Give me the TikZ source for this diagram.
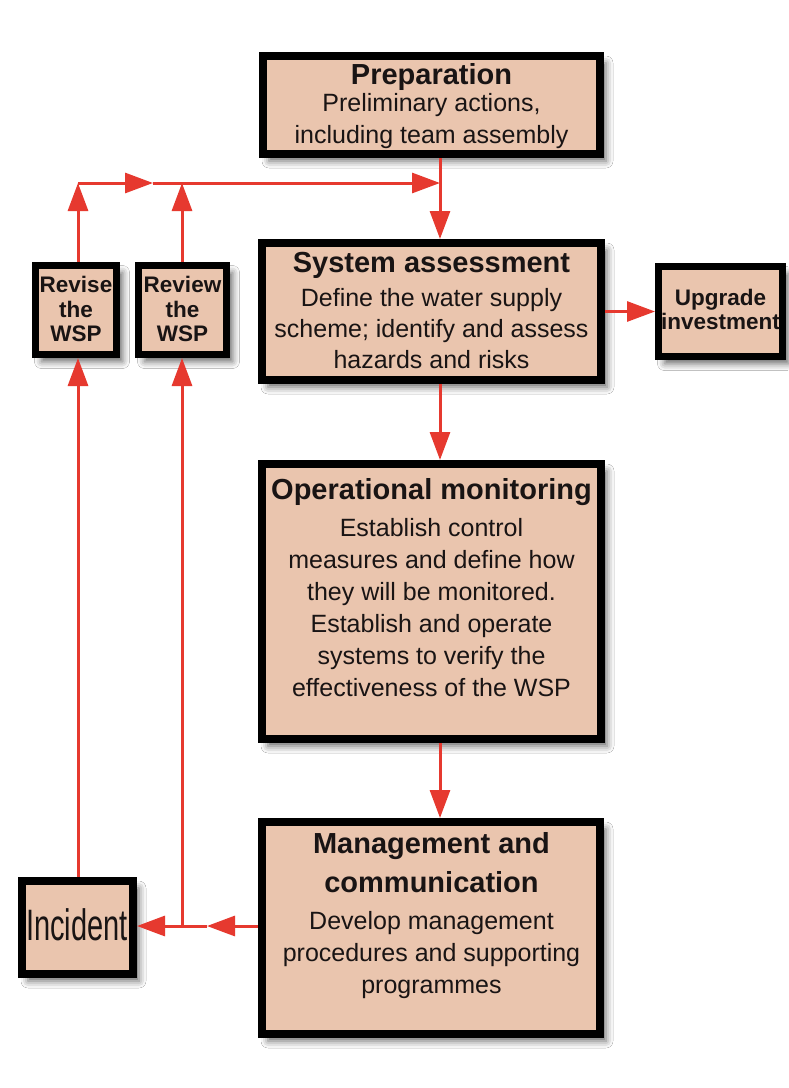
\documentclass[tikz,border=0pt]{standalone}
\usepackage{fontspec}
\setmainfont{Liberation Sans}
\usetikzlibrary{arrows.meta,shadows.blur}

\definecolor{boxfill}{RGB}{234,197,174}
\definecolor{arrred}{RGB}{230,57,47}
\definecolor{txt}{RGB}{25,20,20}

\begin{document}
\begin{tikzpicture}[x=1pt,y=-1pt,
  box/.style={draw=black, line width=8pt, fill=boxfill, inner sep=0pt,
    blur shadow={shadow xshift=6pt, shadow yshift=-7pt, shadow blur radius=7pt, shadow opacity=60}},
  smallbox/.style={box, line width=7pt},
  ttl/.style={font=\bfseries\fontsize{29pt}{39pt}\selectfont, align=center, text=txt, inner sep=0pt},
  bdy/.style={font=\fontsize{25pt}{32pt}\selectfont, align=center, text=txt, inner sep=0pt},
  sml/.style={font=\bfseries\fontsize{22.5pt}{24.5pt}\selectfont, align=center, text=txt, inner sep=0pt},
  conn/.style={draw=arrred, line width=3pt, -{Triangle[length=28pt,width=20pt]}},
]
\useasboundingbox[fill=white] (0,0) rectangle (788,1088);

% boxes
\node[box, minimum width=337pt, minimum height=98pt]  (prep)   at (431.5,105)   {};
\node[box, minimum width=339pt, minimum height=137pt] (sys)    at (431.5,311.5) {};
\node[box, minimum width=339pt, minimum height=275pt] (op)     at (431.5,601.5) {};
\node[box, minimum width=338pt, minimum height=212pt] (mgmt)   at (431,928)     {};
\node[smallbox, minimum width=124pt, minimum height=90pt] (upg)    at (720.5,311.5) {};
\node[smallbox, minimum width=81pt, minimum height=89pt]  (revise) at (76,310)      {};
\node[smallbox, minimum width=88pt, minimum height=89pt]  (review) at (182.5,310)   {};
\node[box, minimum width=111pt, minimum height=93pt]  (inc)    at (77.5,927.5)  {};

% texts
\node[ttl] (prep-t) at (431.5,77)  {Preparation};
\node[bdy] (prep-b) at (431.5,121) {Preliminary actions,\\including team assembly};
\node[ttl] (sys-t)  at (431.5,265) {System assessment};
\node[bdy, font=\fontsize{25pt}{31pt}\selectfont] (sys-b) at (431.5,329) {Define the water supply\\scheme; identify and assess\\hazards and risks};
\node[ttl] (op-t)   at (431.5,492) {Operational monitoring};
\node[bdy] (op-b)   at (431.5,608) {Establish control\\measures and define how\\they will be monitored.\\Establish and operate\\systems to verify the\\effectiveness of the WSP};
\node[ttl] (mgmt-t) at (431.5,862.5) {Management and\\communication};
\node[bdy] (mgmt-b) at (431.5,955) {Develop management\\procedures and supporting\\programmes};
\node[sml] (upg-t)    at (720.5,309.5) {Upgrade\\investment};
\node[sml] (revise-t) at (76,309)      {Revise\\the\\WSP};
\node[sml] (review-t) at (182.5,309)   {Review\\the\\WSP};
\node[font=\fontsize{44pt}{44pt}\selectfont, text=txt, inner sep=0pt] (inc-t) at (77,925) {\scalebox{0.66}[1]{Incident}};

% junction coordinates
\coordinate (tl) at (78,183);
\coordinate (tm) at (182,183);
\coordinate (ta) at (153,183);
\coordinate (tj) at (440,183);
\coordinate (bm) at (182,926);
\coordinate (ba) at (207,926);

% connectors
\draw[conn] (revise.north -| tl) -- (tl);
\draw[conn] (review.north -| tm) -- (tm);
\draw[conn] (tl) -- (ta);
\draw[conn] (ta) -- (tj);
\draw[conn] (prep.south -| tj) -- (sys.north -| tj);
\draw[conn] (sys.south -| tj) -- (op.north -| tj);
\draw[conn] (op.south -| tj) -- (mgmt.north -| tj);
\draw[conn] (sys.east) -- (upg.west);
\draw[conn] (inc.north -| tl) -- (revise.south -| tl);
\draw[conn] (bm) -- (review.south -| bm);
\draw[conn] (mgmt.west |- bm) -- (ba);
\draw[conn] (ba) -- (inc.east |- bm);
\end{tikzpicture}
\end{document}
